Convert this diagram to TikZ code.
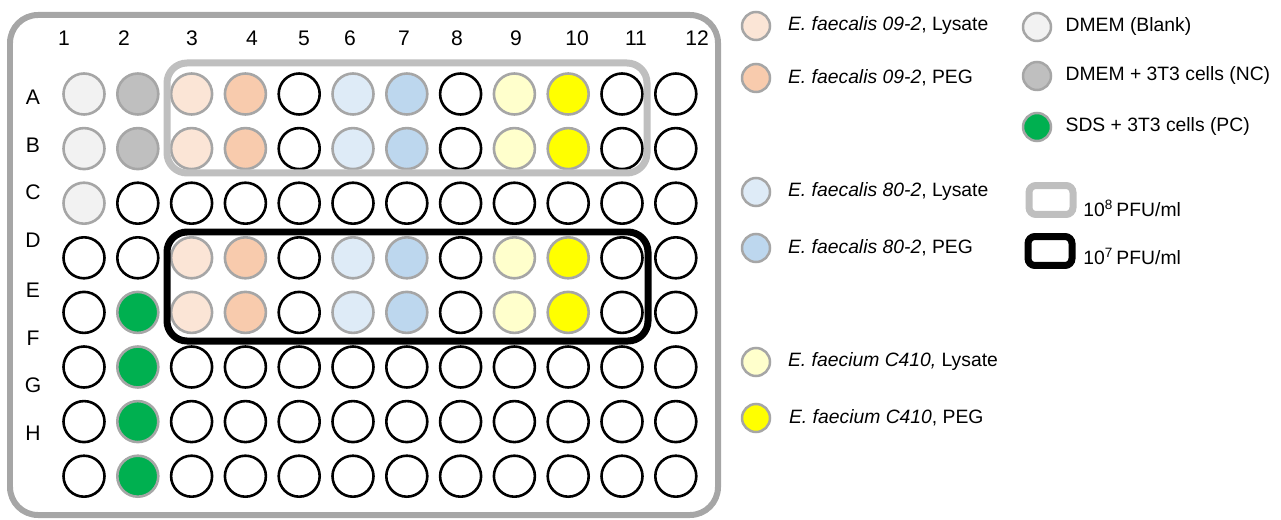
\documentclass[tikz,border=0pt]{standalone}
\usepackage{fontspec}
\setmainfont{Liberation Sans}
\usepackage{xcolor}
\usetikzlibrary{positioning}

\definecolor{plategray}{HTML}{A6A6A6}
\definecolor{boxgray}{HTML}{BFBFBF}
\definecolor{blankcol}{HTML}{F2F2F2}
\definecolor{nccol}{HTML}{BFBFBF}
\definecolor{pccol}{HTML}{00B050}
\definecolor{lysAcol}{HTML}{FBE5D6}
\definecolor{pegAcol}{HTML}{F8CBAD}
\definecolor{lysBcol}{HTML}{DEEBF7}
\definecolor{pegBcol}{HTML}{BDD7EE}
\definecolor{lysCcol}{HTML}{FFFFCC}
\definecolor{pegCcol}{HTML}{FFFF00}

\begin{document}
\begin{tikzpicture}[
    x=0.02cm, y=-0.02cm,
    well/.style={circle, line width=0.052cm, minimum size=0.82cm, inner sep=0pt},
    emptywell/.style={well, draw=black, fill=white},
    ringed/.style={well, draw=plategray},
    blankwell/.style={ringed, fill=blankcol},
    ncwell/.style={ringed, fill=nccol},
    pcwell/.style={ringed, fill=pccol},
    lysAwell/.style={ringed, fill=lysAcol},
    pegAwell/.style={ringed, fill=pegAcol},
    lysBwell/.style={ringed, fill=lysBcol},
    pegBwell/.style={ringed, fill=pegBcol},
    lysCwell/.style={ringed, fill=lysCcol},
    pegCwell/.style={ringed, fill=pegCcol},
    key/.style={circle, draw=plategray, line width=0.05cm, minimum size=0.56cm, inner sep=0pt},
    keytext/.style={inner sep=0pt, font=\fontsize{11pt}{13pt}\selectfont},
    platelab/.style={font=\fontsize{12pt}{14pt}\selectfont},
    dose8/.style={draw=boxgray, line width=0.14cm},
    dose7/.style={draw=black, line width=0.14cm},
    keybox/.style={rectangle, rounded corners=0.14cm, minimum width=0.88cm, minimum height=0.58cm, inner sep=0pt}
]
    \useasboundingbox (0,0) rectangle (1281,520);

    % plate
    \draw[plategray, line width=0.12cm, rounded corners=0.56cm] (10,15) rectangle (718,515);

    % column and row labels
    \foreach \lab/\x in {1/64, 2/124, 3/192, 4/252, 5/304, 6/350, 7/404, 8/457, 9/516, 10/577, 11/636, 12/697}
        \node[platelab] (col\lab) at (\x,38) {\lab};
    \foreach \lab/\y in {A/97, B/145, C/192, D/240, E/290, F/338, G/385, H/433}
        \node[platelab] (row\lab) at (33,\y) {\lab};

    % wells, row by row
    \foreach \wells [count=\r] in {%
        {blankwell,ncwell,lysAwell,pegAwell,emptywell,lysBwell,pegBwell,emptywell,lysCwell,pegCwell,emptywell,emptywell},%
        {blankwell,ncwell,lysAwell,pegAwell,emptywell,lysBwell,pegBwell,emptywell,lysCwell,pegCwell,emptywell,emptywell},%
        {blankwell,emptywell,emptywell,emptywell,emptywell,emptywell,emptywell,emptywell,emptywell,emptywell,emptywell,emptywell},%
        {emptywell,emptywell,lysAwell,pegAwell,emptywell,lysBwell,pegBwell,emptywell,lysCwell,pegCwell,emptywell,emptywell},%
        {emptywell,pcwell,lysAwell,pegAwell,emptywell,lysBwell,pegBwell,emptywell,lysCwell,pegCwell,emptywell,emptywell},%
        {emptywell,pcwell,emptywell,emptywell,emptywell,emptywell,emptywell,emptywell,emptywell,emptywell,emptywell,emptywell},%
        {emptywell,pcwell,emptywell,emptywell,emptywell,emptywell,emptywell,emptywell,emptywell,emptywell,emptywell,emptywell},%
        {emptywell,pcwell,emptywell,emptywell,emptywell,emptywell,emptywell,emptywell,emptywell,emptywell,emptywell,emptywell}}{
        \foreach \kind [count=\c] in \wells
            \node[\kind] (w\r-\c) at ({84+53.8*(\c-1)},{94+54.6*(\r-1)}) {};
    }

    % dose boxes
    \draw[dose8, rounded corners=0.4cm] (167,63) rectangle (647,173);
    \draw[dose7, rounded corners=0.4cm] (167,232) rectangle (648,341);

    % legend, left column
    \node[key, fill=lysAcol] (kA1) at (756,26) {};
    \node[keytext, right=0.33cm of kA1] (tA1) {\textit{E. faecalis 09-2}, Lysate};
    \node[key, fill=pegAcol] (kA2) at (756,78) {};
    \node[keytext, right=0.33cm of kA2] (tA2) {\textit{E. faecalis 09-2}, PEG};
    \node[key, fill=lysBcol] (kB1) at (756,192) {};
    \node[keytext, right=0.33cm of kB1] (tB1) {\textit{E. faecalis 80-2}, Lysate};
    \node[key, fill=pegBcol] (kB2) at (756,248) {};
    \node[keytext, right=0.33cm of kB2] (tB2) {\textit{E. faecalis 80-2}, PEG};
    \node[key, fill=lysCcol] (kC1) at (756,362) {};
    \node[keytext, right=0.33cm of kC1] (tC1) {\textit{E. faecium C410,} Lysate};
    \node[key, fill=pegCcol] (kC2) at (756,418) {};
    \node[keytext, right=0.35cm of kC2] (tC2) {\textit{E. faecium C410}, PEG};

    % legend, right column
    \node[key, fill=blankcol] (kbl) at (1037,27) {};
    \node[keytext, right=0.26cm of kbl] (tbl) {DMEM (Blank)};
    \node[key, fill=nccol] (knc) at (1037,76) {};
    \node[keytext, right=0.26cm of knc] (tnc) {DMEM + 3T3 cells (NC)};
    \node[key, fill=pccol] (kpc) at (1037,127) {};
    \node[keytext, right=0.26cm of kpc] (tpc) {SDS + 3T3 cells (PC)};

    \node[keybox, dose8] (k8) at (1051,200) {};
    \node[keytext, anchor=base west] (t8) at (1083,216) {10\textsuperscript{8}\,PFU/ml};
    \node[keybox, dose7] (k7) at (1050,251) {};
    \node[keytext, anchor=base west] (t7) at (1083,264) {10\textsuperscript{7}\,PFU/ml};
\end{tikzpicture}
\end{document}
